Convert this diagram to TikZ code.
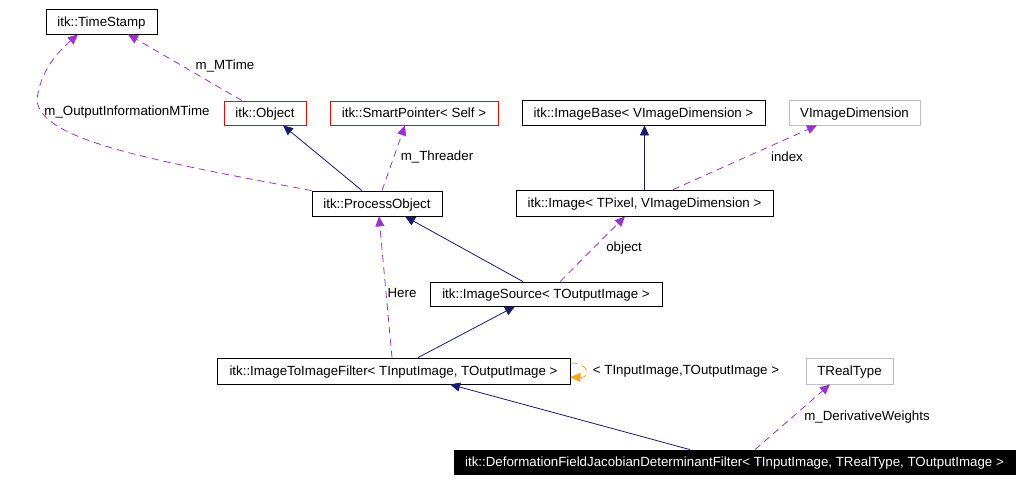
\documentclass[tikz,border=0pt]{standalone}
\usepackage{fontspec}
\setmainfont{Liberation Sans}
\usetikzlibrary{arrows.meta}

\definecolor{navy}{HTML}{191970}
\definecolor{orchid}{HTML}{9A32CD}
\definecolor{tmplorange}{HTML}{FFA500}
\definecolor{boxgray}{HTML}{BFBFBF}

\tikzset{
  cls/.style={draw=black, line width=0.8pt, inner sep=0pt, minimum height=25pt,
    text height=9pt, text depth=0pt, font=\fontsize{13.3}{15}\selectfont},
  redcls/.style={cls, draw=red},
  graycls/.style={cls, draw=boxgray},
  curcls/.style={cls, fill=black, text=white},
  lbl/.style={inner sep=0pt, text height=9pt, text depth=0pt, font=\fontsize{13.3}{15}\selectfont},
  inh/.style={draw=navy, line width=0.8pt, -{Triangle[length=10pt,width=9pt]}},
  mem/.style={draw=orchid, line width=0.8pt, dash pattern=on 7pt off 5pt,
    -{Triangle[length=10pt,width=9pt]}},
  tmpl/.style={draw=tmplorange, line width=0.8pt, dash pattern=on 7pt off 5pt,
    -{Triangle[length=10pt,width=9pt]}}
}

\begin{document}
\begin{tikzpicture}[x=1pt, y=-1pt]

 \useasboundingbox (0,0) rectangle (1023,482);

 %%%  nodes

 % classes
 \node [cls, minimum width=111pt] (ts) at (101.5,21.5) {itk::TimeStamp};
 \node [redcls, minimum width=82pt, minimum height=24pt] (obj) at (265,113) {itk::Object};
 \node [redcls, minimum width=168pt, minimum height=24pt] (sp) at (414,113) {itk::SmartPointer< Self >};
 \node [cls, minimum width=130pt] (po) at (377,203.5) {itk::ProcessObject};
 \node [cls, minimum width=243pt] (ib) at (643.5,112.5) {itk::ImageBase< VImageDimension >};
 \node [graycls, minimum width=131pt] (vd) at (854.5,112.5) {VImageDimension};
 \node [cls, minimum width=257pt, minimum height=26pt] (img) at (644.5,203) {itk::Image< TPixel, VImageDimension >};
 \node [cls, minimum width=232pt, minimum height=24pt] (is) at (546,294) {itk::ImageSource< TOutputImage >};
 \node [cls, minimum width=353pt, minimum height=26pt] (itf) at (393.5,371) {itk::ImageToImageFilter< TInputImage, TOutputImage >};
 \node [graycls, minimum width=87pt, minimum height=26pt] (tr) at (849.5,371) {TRealType};
 \node [curcls, minimum width=561pt, minimum height=24pt] (dfj) at (734.5,462) {itk::DeformationFieldJacobianDeterminantFilter< TInputImage, TRealType, TOutputImage >};

 % labels
 \node [lbl] (lmtime) at (225,65) {m\_MTime};
 \node [lbl] (loutmtime) at (127,111) {m\_OutputInformationMTime};
 \node [lbl] (lthreader) at (437,156) {m\_Threader};
 \node [lbl] (lindex) at (787,157) {index};
 \node [lbl] (lobject) at (624,247) {object};
 \node [lbl] (lhere) at (402,293) {Here};
 \node [lbl] (ltmpl) at (686,370) {< TInputImage,TOutputImage >};
 \node [lbl] (lweights) at (867,416) {m\_DerivativeWeights};

 %%%  edges

 % inheritance
 \draw [inh] ([xshift=-15pt]po.north) to ([xshift=18pt]obj.south);
 \draw [inh] (img.north) to (img.north |- ib.south);
 \draw [inh] ([xshift=-23pt]is.north) to ([xshift=28pt]po.south);
 \draw [inh] ([xshift=24.5pt]itf.north) to ([xshift=-31pt]is.south);
 \draw [inh] ([xshift=-44.5pt]dfj.north) to ([xshift=56.5pt]itf.south);

 % members
 \draw [mem] ([xshift=-23pt]obj.north) to ([xshift=26.5pt]ts.south);
 \draw [mem] (po.north west) .. controls (150,160) and (40,140) .. (37,100)
   .. controls (40,70) and (60,50) .. ([xshift=-23.5pt]ts.south);
 \draw [mem] ([xshift=5pt]po.north) to ([xshift=-9pt]sp.south);
 \draw [mem] ([xshift=28.5pt]img.north) to ([xshift=-37.5pt]vd.south);
 \draw [mem] ([xshift=14pt]is.north) to ([xshift=-19.5pt]img.south);
 \draw [mem] ([xshift=-1.5pt]itf.north) to ([xshift=2pt]po.south);
 \draw [mem] ([xshift=20.5pt]dfj.north) to ([xshift=-19.5pt]tr.south);

 % template
 \draw [tmpl] ([yshift=8pt]itf.east) .. controls (588,362) and (592,378) .. ([yshift=-6pt]itf.east);

\end{tikzpicture}
\end{document}
